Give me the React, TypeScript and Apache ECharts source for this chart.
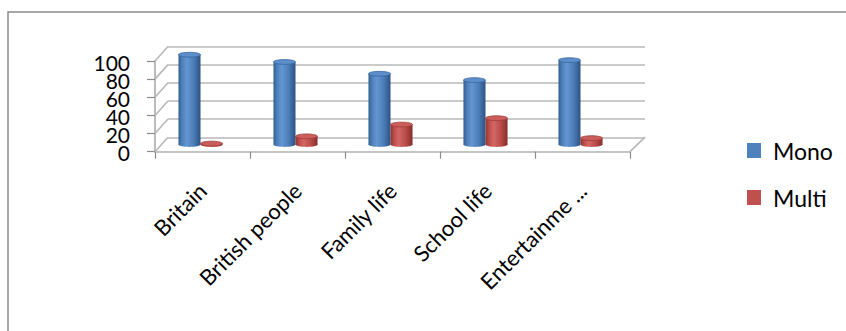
import React, { useEffect, useRef } from "react";
import * as echarts from "echarts";

const categories = ["Britain", "British people", "Family life", "School life", "Entertainme ..."];
const monoValues = [99, 91, 78, 71, 93];
const multiValues = [1, 9, 22, 29, 7];
const yTicks = [0, 20, 40, 60, 80, 100];

const FONT = "Lato, 'Noto Sans', sans-serif";
const DX_MID = -2;
const DY_MID = -7.2;
const DEPTH_DX = 13;
const DEPTH_DY = -14.5;

type Pal = { stops: string[]; top: string; rim: string };
const monoPal: Pal = {
  stops: ["#34608f", "#4f81bd", "#6496d2", "#4b7cb7", "#2c5282"],
  top: "#5c8ecb",
  rim: "#3a679c",
};
const multiPal: Pal = {
  stops: ["#8c3431", "#c0504d", "#d26764", "#b94a47", "#842e2b"],
  top: "#cb5e5b",
  rim: "#9a3b38",
};

function grad(p: Pal) {
  return {
    type: "linear",
    x: 0,
    y: 0,
    x2: 1,
    y2: 0,
    colorStops: [
      { offset: 0, color: p.stops[0] },
      { offset: 0.18, color: p.stops[1] },
      { offset: 0.38, color: p.stops[2] },
      { offset: 0.7, color: p.stops[3] },
      { offset: 1, color: p.stops[4] },
    ],
  };
}

function cylinder(side: number, pal: Pal) {
  return (params: any, api: any) => {
    const idx = api.value(0);
    const v = api.value(1);
    const base = api.coord([idx, 0]);
    const top = api.coord([idx, v]);
    const bw = api.size([1, 0])[0];
    const w = bw * 0.232;
    const cx = base[0] + DX_MID + side * (w / 2);
    const yb = base[1] + DY_MID;
    const yt = top[1] + DY_MID;
    const ry = 2.4;
    return {
      type: "group",
      children: [
        {
          type: "ellipse",
          shape: { cx, cy: yb, rx: w / 2, ry },
          style: { fill: grad(pal) },
        },
        {
          type: "rect",
          shape: { x: cx - w / 2, y: yt, width: w, height: Math.max(0, yb - yt) },
          style: { fill: grad(pal) },
        },
        {
          type: "ellipse",
          shape: { cx, cy: yt, rx: w / 2, ry },
          style: { fill: pal.top, stroke: pal.rim, lineWidth: 0.8 },
        },
      ],
    };
  };
}

function walls(params: any, api: any) {
  const v = api.value(1);
  const p = api.coord([0, v]);
  const bw = api.size([1, 0])[0];
  const left = p[0] - bw / 2;
  const children: any[] = [
    {
      type: "line",
      shape: { x1: left, y1: p[1], x2: left + DEPTH_DX, y2: p[1] + DEPTH_DY },
      style: { stroke: "#b8b8b8", lineWidth: 1.6 },
    },
    {
      type: "text",
      style: {
        x: left - 25,
        y: p[1] + 1,
        text: String(v),
        align: "right",
        verticalAlign: "middle",
        font: `21px ${FONT}`,
        fill: "#000",
      },
    },
  ];
  if (v === 0) {
    const right = left + bw * categories.length;
    children.push({
      type: "line",
      shape: { x1: right, y1: p[1], x2: right + DEPTH_DX + 2, y2: p[1] + DEPTH_DY },
      style: { stroke: "#b8b8b8", lineWidth: 1.6 },
    });
  }
  return { type: "group", children };
}

export default function App() {
  const ref = useRef<HTMLDivElement>(null);
  useEffect(() => {
    if (!ref.current) return;
    const chart = echarts.init(ref.current, undefined, { renderer: "svg" });
    chart.setOption({
      animation: false,
      backgroundColor: "#ffffff",
      graphic: [
        {
          type: "rect",
          z: -10,
          shape: { x: 8, y: 12, width: 900, height: 400 },
          style: { fill: "none", stroke: "#8a8a8a", lineWidth: 1.5 },
        },
      ],
      legend: {
        orient: "vertical",
        left: 747,
        top: 139,
        padding: 0,
        itemWidth: 14,
        itemHeight: 15,
        itemGap: 24,
        icon: "rect",
        data: ["Mono", "Multi"],
        textStyle: { fontFamily: FONT, fontSize: 23, color: "#000", padding: [0, 0, 0, 7] },
      },
      grid: [
        { left: 155, right: 216, top: 61, bottom: 179.3 },
        { left: 168, right: 201, top: 46.6, bottom: 193.7 },
      ],
      xAxis: [
        {
          type: "category",
          gridIndex: 0,
          data: categories,
          boundaryGap: true,
          axisLine: { show: true, lineStyle: { color: "#c4c4c4", width: 1.8 } },
          axisTick: { show: true, length: 7, lineStyle: { color: "#8c8c8c", width: 1.2 } },
          axisLabel: {
            rotate: 45,
            margin: 35,
            interval: 0,
            fontFamily: FONT,
            fontSize: 22,
            color: "#000",
          },
          splitLine: { show: false },
        },
        {
          type: "value",
          gridIndex: 1,
          min: 0,
          max: 1,
          show: false,
        },
      ],
      yAxis: [
        {
          type: "value",
          gridIndex: 0,
          min: 0,
          max: 100,
          interval: 20,
          axisLine: { show: true, lineStyle: { color: "#a6a6a6", width: 1.5 } },
          axisTick: { show: true, length: 8, lineStyle: { color: "#8c8c8c", width: 1.2 } },
          axisLabel: { show: false },
          splitLine: { show: false },
        },
        {
          type: "value",
          gridIndex: 1,
          min: 0,
          max: 100,
          interval: 20,
          axisLine: { show: false },
          axisTick: { show: false },
          axisLabel: { show: false },
          splitLine: { show: true, lineStyle: { color: "#b8b8b8", width: 1.6 } },
        },
      ],
      series: [
        {
          name: "walls",
          type: "custom",
          xAxisIndex: 0,
          yAxisIndex: 0,
          silent: true,
          z: 1,
          data: yTicks.map((t) => [0, t]),
          renderItem: walls,
        },
        {
          name: "Mono",
          type: "custom",
          xAxisIndex: 0,
          yAxisIndex: 0,
          z: 3,
          itemStyle: { color: "#4F81BD" },
          data: monoValues.map((v, i) => [i, v]),
          renderItem: cylinder(-1, monoPal),
        },
        {
          name: "Multi",
          type: "custom",
          xAxisIndex: 0,
          yAxisIndex: 0,
          z: 4,
          itemStyle: { color: "#C0504D" },
          data: multiValues.map((v, i) => [i, v]),
          renderItem: cylinder(1, multiPal),
        },
      ],
    });
    return () => chart.dispose();
  }, []);
  return (
    <div
      ref={ref}
      style={{ position: "fixed", left: 0, top: 0, width: 846, height: 331 }}
    />
  );
}
